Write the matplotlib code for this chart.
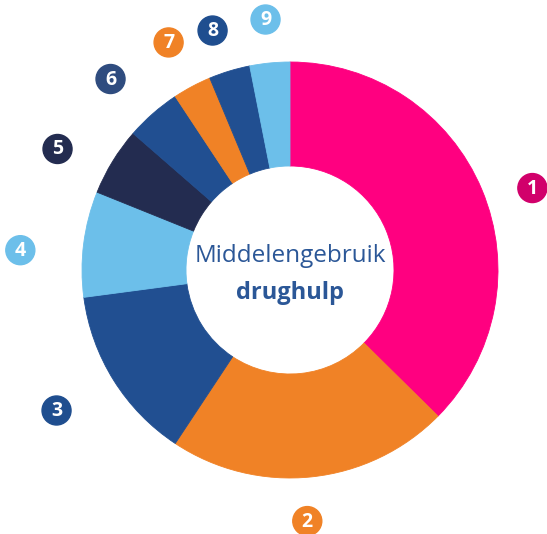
import numpy as np
import matplotlib.pyplot as plt
from matplotlib.patches import Circle

# share of each category, in percent, clockwise from 12 o'clock
labels = ['1', '2', '3', '4', '5', '6', '7', '8', '9']
shares = [37.4, 21.9, 13.6, 8.2, 5.3, 4.3, 3.0, 3.2, 3.1]
colors = ['#FF0080', '#F08226', '#214F91', '#6CBFEA', '#232C50',
          '#214F91', '#F08226', '#214F91', '#6CBFEA']
badge_colors = ['#D1006B', '#F08226', '#1F4E8F', '#6CBFEA', '#232C50',
                '#2F4C7F', '#F08226', '#1F4E8F', '#6CBFEA']
title_top = 'Middelengebruik'
title_bottom = 'drughulp'

# badge placement: distance from centre (x outer radius) and angle nudge
badge_dist = [1.23, 1.21, 1.31, 1.30, 1.26, 1.26, 1.24, 1.21, 1.21]
badge_nudge = [-4.0, -2.0, -1.0, 3.0, 4.0, 2.0, 0.0, 1.0, 0.0]

plt.rcParams['font.family'] = ['Open Sans', 'DejaVu Sans']

fig = plt.figure(figsize=(5.47, 5.34), dpi=100)
ax = fig.add_axes([0, 0, 1, 1])

cx, cy, R = 290, 264, 208
wedges, _ = ax.pie(shares, colors=colors, startangle=90, counterclock=False,
                   radius=R, center=(cx, cy),
                   wedgeprops=dict(width=R * 0.5, linewidth=0.6))
for w in wedges:
    w.set_edgecolor(w.get_facecolor())

for w, lab, bc, d, nudge in zip(wedges, labels, badge_colors,
                                badge_dist, badge_nudge):
    mid = np.deg2rad((w.theta1 + w.theta2) / 2 + nudge)
    bx = cx + R * d * np.cos(mid)
    by = cy + R * d * np.sin(mid)
    ax.add_patch(Circle((bx, by), 14.5, color=bc, zorder=3))
    ax.text(bx, by - 0.5, lab, color='white', fontsize=14, fontweight='bold',
            ha='center', va='center', zorder=4)

ax.text(cx, cy + 14, title_top, color='#2B5797', fontsize=17.5,
        ha='center', va='center')
ax.text(cx, cy - 23, title_bottom, color='#2B5797', fontsize=17,
        fontweight='bold', ha='center', va='center')

ax.set_xlim(0, 547)
ax.set_ylim(0, 534)
ax.set_aspect('equal')
ax.axis('off')

plt.savefig('out.png', dpi=100)
